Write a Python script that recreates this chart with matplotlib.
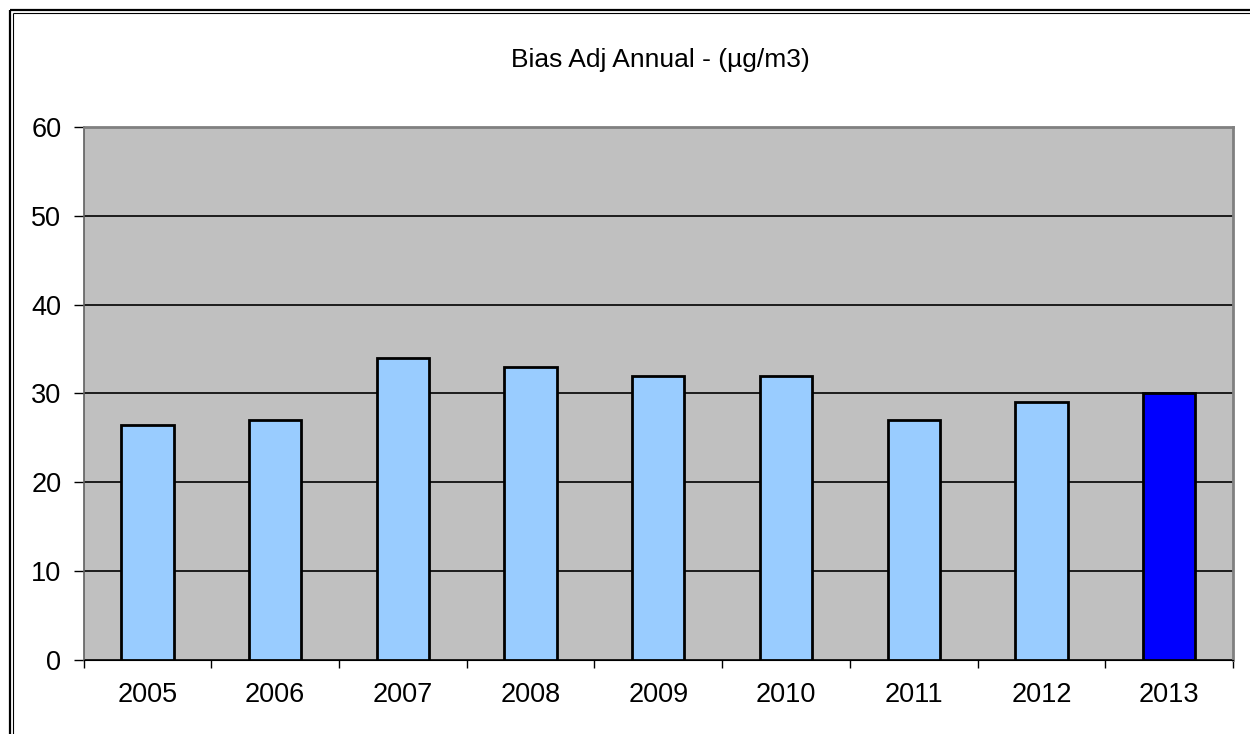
import matplotlib
matplotlib.use("Agg")
import matplotlib.pyplot as plt
from matplotlib.lines import Line2D
import numpy as np

years = ["2005", "2006", "2007", "2008", "2009", "2010", "2011", "2012", "2013"]
values = [26.5, 27, 34, 33, 32, 32, 27, 29, 30]
bar_colors = ["#99ccff"] * 8 + ["#0000ff"]
title = "Bias Adj Annual - (µg/m3)"

plt.rcParams["font.family"] = ["Liberation Sans", "DejaVu Sans"]

fig = plt.figure(figsize=(12.5, 7.34), dpi=100)
ax = fig.add_axes([0.0668, 0.1008, 0.9196, 0.7262])
ax.set_facecolor("#c0c0c0")

x = np.arange(len(years))
ax.bar(x, values, width=0.41, color=bar_colors, edgecolor="black", linewidth=2, zorder=3)

ax.set_xlim(-0.5, len(years) - 0.5)
ax.set_ylim(0, 60)
ax.set_yticks(range(0, 61, 10))
ax.yaxis.grid(True, color="black", linewidth=1.2, zorder=1)
ax.set_axisbelow(True)

# category labels centred, tick marks at boundaries
ax.set_xticks(x)
ax.set_xticklabels(years, fontsize=19.5)
ax.tick_params(axis="x", which="major", length=0, pad=16)
ax.set_xticks(np.arange(-0.5, len(years), 1), minor=True)
ax.tick_params(axis="x", which="minor", length=6, width=1, direction="out")
ax.tick_params(axis="y", length=7, width=1, labelsize=19.5, pad=9)

for s in ["top", "right"]:
    ax.spines[s].set_color("#808080")
    ax.spines[s].set_linewidth(2)
ax.spines["left"].set_color("#606060")
ax.spines["bottom"].set_color("black")
ax.spines["left"].set_linewidth(1.2)

fig.text(0.528, 0.918, title, ha="center", va="center", fontsize=19)

# double frame, only left and top edges fall inside the picture
W, H = 1250.0, 734.0
for off, lw in [(9.8, 1.6), (12.5, 0.8)]:
    fx = off / W
    fy = 1 - off / H
    fig.add_artist(Line2D([fx, fx], [0, fy], transform=fig.transFigure, color="black",
                          linewidth=lw, solid_capstyle="butt"))
    fig.add_artist(Line2D([fx, 1], [fy, fy], transform=fig.transFigure, color="black",
                          linewidth=lw, solid_capstyle="butt"))

fig.savefig("out.png", dpi=100)
